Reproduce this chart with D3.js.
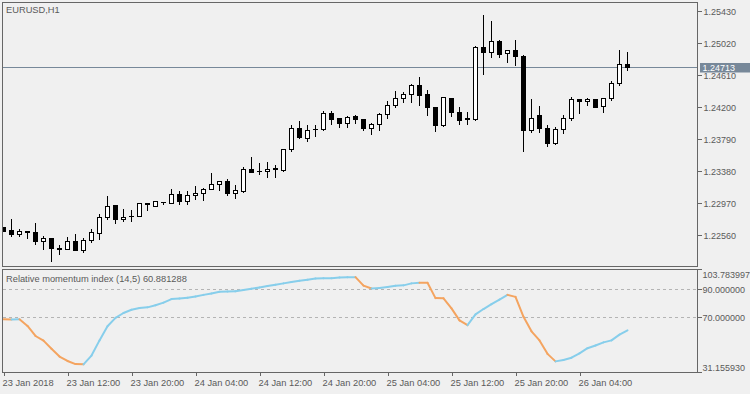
<!DOCTYPE html>
<html>
<head>
<meta charset="utf-8">
<script src="https://cdn.jsdelivr.net/npm/d3@7/dist/d3.min.js"></script>
<style>
  html, body { margin: 0; padding: 0; background: #f0f0f0; }
  svg { display: block; font-family: "Liberation Sans", Arial, sans-serif; }
</style>
</head>
<body>
<svg id="chart" width="750" height="394"></svg>
<script>
// EURUSD H1 candles, first bar 23 Jan 2018 04:00
const symbolTitle = 'EURUSD,H1';
const firstBar = '2018-01-23 04:00';

const open = [
  1.22665, 1.22622, 1.22570, 1.22609, 1.22592, 1.22481, 1.22515, 1.22383, 1.22378, 1.22481,
  1.22365, 1.22499, 1.22588, 1.22788, 1.22942, 1.22759, 1.22806, 1.22801, 1.22964, 1.22934,
  1.22985, 1.22964, 1.23088, 1.22993, 1.23070, 1.23096, 1.23152, 1.23216, 1.23254, 1.23096,
  1.23121, 1.23408, 1.23383, 1.23378, 1.23412, 1.23390, 1.23665, 1.23934, 1.23805, 1.23912,
  1.23912, 1.24126, 1.24053, 1.23989, 1.24082, 1.24049, 1.23934, 1.23985, 1.24113, 1.24228,
  1.24318, 1.24369, 1.24484, 1.24360, 1.24203, 1.23967, 1.24318, 1.24139, 1.24053, 1.24049,
  1.24971, 1.24907, 1.25043, 1.24886, 1.24933, 1.24856, 1.23903, 1.24100, 1.23934, 1.23736,
  1.23921, 1.24057, 1.24305, 1.24279, 1.24305, 1.24210, 1.24318, 1.24510, 1.24754
];
const high = [
  1.22675, 1.22772, 1.22652, 1.22622, 1.22729, 1.22563, 1.22528, 1.22442, 1.22550, 1.22579,
  1.22532, 1.22652, 1.22836, 1.23066, 1.22951, 1.22909, 1.22891, 1.22964, 1.22973, 1.22989,
  1.22998, 1.23156, 1.23130, 1.23130, 1.23194, 1.23169, 1.23361, 1.23254, 1.23293, 1.23207,
  1.23447, 1.23566, 1.23489, 1.23502, 1.23463, 1.23677, 1.23976, 1.24027, 1.23976, 1.23976,
  1.24155, 1.24155, 1.24075, 1.24100, 1.24113, 1.24059, 1.24010, 1.24133, 1.24287, 1.24415,
  1.24408, 1.24505, 1.24600, 1.24424, 1.24208, 1.24344, 1.24331, 1.24210, 1.24151, 1.24988,
  1.25385, 1.25308, 1.25074, 1.24928, 1.25074, 1.24882, 1.24318, 1.24228, 1.23985, 1.23954,
  1.24113, 1.24344, 1.24310, 1.24331, 1.24318, 1.24331, 1.24540, 1.24946, 1.24920
];
const low = [
  1.22605, 1.22545, 1.22545, 1.22519, 1.22438, 1.22374, 1.22224, 1.22310, 1.22378, 1.22365,
  1.22340, 1.22464, 1.22502, 1.22768, 1.22711, 1.22742, 1.22742, 1.22801, 1.22878, 1.22934,
  1.22960, 1.22964, 1.22951, 1.22951, 1.23015, 1.23006, 1.23152, 1.23134, 1.23070, 1.23031,
  1.23108, 1.23365, 1.23339, 1.23301, 1.23301, 1.23378, 1.23634, 1.23796, 1.23762, 1.23826,
  1.23903, 1.23980, 1.23946, 1.23946, 1.23998, 1.23903, 1.23848, 1.23903, 1.24053, 1.24197,
  1.24262, 1.24262, 1.24223, 1.24095, 1.23890, 1.23959, 1.24082, 1.23980, 1.23980, 1.24036,
  1.24625, 1.24838, 1.24838, 1.24774, 1.24736, 1.23634, 1.23877, 1.23877, 1.23698, 1.23723,
  1.23864, 1.24036, 1.24121, 1.24223, 1.24203, 1.24133, 1.24292, 1.24484, 1.24672
];
const close = [
  1.22614, 1.22567, 1.22605, 1.22592, 1.22481, 1.22515, 1.22391, 1.22391, 1.22481, 1.22365,
  1.22499, 1.22592, 1.22793, 1.22934, 1.22759, 1.22793, 1.22797, 1.22964, 1.22951, 1.22989,
  1.22977, 1.23088, 1.22993, 1.23075, 1.23101, 1.23152, 1.23216, 1.23254, 1.23096, 1.23130,
  1.23408, 1.23365, 1.23374, 1.23408, 1.23403, 1.23665, 1.23934, 1.23818, 1.23908, 1.23921,
  1.24126, 1.24049, 1.23998, 1.24075, 1.24049, 1.23928, 1.23985, 1.24113, 1.24228, 1.24318,
  1.24369, 1.24484, 1.24351, 1.24197, 1.23967, 1.24331, 1.24133, 1.24031, 1.24040, 1.24971,
  1.24902, 1.25043, 1.24882, 1.24928, 1.24856, 1.23903, 1.24062, 1.23934, 1.23736, 1.23921,
  1.24062, 1.24305, 1.24279, 1.24305, 1.24203, 1.24318, 1.24510, 1.24754, 1.24713
];
const bidPrice = 1.24713;
const priceTicks = [1.22560, 1.22970, 1.23380, 1.23790, 1.24200, 1.24610, 1.25020, 1.25430];

// Relative momentum index (14,5)
const rmiTitle = 'Relative momentum index (14,5)';
const rmi = [
  68.7, 68.6, 68.65, 64.0, 56.9, 53.6, 47.9, 42.4, 39.3, 37.1,
  36.9, 43.1, 53.8, 63.8, 69.7, 73.1, 75.4, 76.6, 77.1, 78.6,
  80.4, 82.9, 83.3, 83.8, 84.7, 85.9, 86.9, 88.1, 88.3, 88.4,
  89.3, 90.2, 91.1, 92.1, 93.1, 94.0, 95.0, 95.9, 96.6, 97.4,
  97.6, 97.7, 98.1, 98.3, 98.4, 92.4, 90.4, 90.7, 91.4, 92.4,
  92.6, 94.0, 94.5, 94.4, 83.6, 83.5, 76.4, 67.9, 64.5, 72.1,
  75.9, 79.3, 82.6, 85.9, 84.5, 70.4, 60.2, 53.8, 44.3, 39.0,
  40.0, 41.6, 44.7, 48.3, 50.2, 52.4, 53.8, 57.9, 60.881288
];
const rmiLevels = [70, 90];
const rmiRange = [31.155930, 103.783997];

const timeTicks = ['2018-01-23 04:00', '2018-01-23 12:00', '2018-01-23 20:00', '2018-01-24 04:00',
  '2018-01-24 12:00', '2018-01-24 20:00', '2018-01-25 04:00', '2018-01-25 12:00',
  '2018-01-25 20:00', '2018-01-26 04:00'];
const timeTickLabels = ['23 Jan 2018', '23 Jan 12:00', '23 Jan 20:00', '24 Jan 04:00',
  '24 Jan 12:00', '24 Jan 20:00', '25 Jan 04:00', '25 Jan 12:00',
  '25 Jan 20:00', '26 Jan 04:00'];

let frameColor = '#666666';
let textColor = '#5a5a5a';
let upColor = '#87ceeb', downColor = '#f4a460';
let fs = '9.3px';     // titles + time axis
let fsR = '9px';      // right hand scales, must fit in 52px

let L = 2.5, R = 697.5, mainTop = 2.5, mainBottom = 266.5, subTop = 269.5, subBottom = 372.5;

let parse = d3.timeParse('%Y-%m-%d %H:%M');
let t0 = parse(firstBar);
let times = open.map((d, i) => d3.timeHour.offset(t0, i));

let svg = d3.select('#chart');

let x = d3.scaleTime().domain([times[0], times[times.length - 1]]).range([3.5, 627.5]);
let y = d3.scaleLinear().domain([1.22160, 1.25545]).range([mainBottom, mainTop]);
let yR = d3.scaleLinear().domain(rmiRange).range([subBottom, subTop]);
let px = v => Math.round(v - 0.5) + 0.5;

svg.append('defs').append('clipPath').attr('id', 'mainClip')
  .append('rect').attr('x', L).attr('y', mainTop).attr('width', R - L).attr('height', mainBottom - mainTop);
svg.select('defs').append('clipPath').attr('id', 'subClip')
  .append('rect').attr('x', L).attr('y', subTop).attr('width', R - L).attr('height', subBottom - subTop);

// ---- main panel
let main = svg.append('g').attr('clip-path', 'url(#mainClip)');

main.append('line')
  .attr('x1', L).attr('x2', R)
  .attr('y1', px(y(bidPrice))).attr('y2', px(y(bidPrice)))
  .attr('stroke', '#778899').attr('stroke-width', 1);

let bars = main.append('g').attr('shape-rendering', 'crispEdges');
times.forEach((t, i) => {
  let cx = px(x(t));
  let o = open[i], c = close[i];
  bars.append('line')
    .attr('x1', cx).attr('x2', cx)
    .attr('y1', px(y(high[i]))).attr('y2', px(y(low[i])) + 0.5)
    .attr('stroke', '#000');
  let top = px(y(Math.max(o, c))), bot = px(y(Math.min(o, c)));
  if (bot - top < 1) {
    bars.append('line')
      .attr('x1', cx - 2.5).attr('x2', cx + 2.5)
      .attr('y1', top).attr('y2', top)
      .attr('stroke', '#000');
  } else {
    bars.append('rect')
      .attr('x', cx - 2).attr('y', top)
      .attr('width', 4).attr('height', bot - top)
      .attr('fill', c >= o ? '#ffffff' : '#000000')
      .attr('stroke', '#000');
  }
});

svg.append('text')
  .attr('x', 6).attr('y', 12.5)
  .attr('font-size', fs).attr('fill', textColor)
  .text(symbolTitle);

// price axis
let yAxis = svg.append('g')
  .attr('transform', `translate(${R},0)`)
  .call(d3.axisRight(y).tickValues(priceTicks).tickFormat(d3.format('.5f')).tickSize(4).tickPadding(2));
yAxis.select('.domain').remove();
yAxis.selectAll('line').attr('stroke', frameColor).attr('shape-rendering', 'crispEdges');
yAxis.selectAll('text').attr('font-size', fsR).attr('fill', textColor).attr('font-family', null);

// bid label (covers the 1.24610 label, as in the terminal)
let by = px(y(bidPrice));
svg.append('rect')
  .attr('x', 700).attr('y', by - 4.5).attr('width', 50).attr('height', 9.5)
  .attr('fill', '#778899');
svg.append('text')
  .attr('x', 702.5).attr('y', by).attr('dy', '0.34em')
  .attr('font-size', fsR).attr('fill', '#ffffff')
  .text(d3.format('.5f')(bidPrice));

// ---- indicator panel
let sub = svg.append('g').attr('clip-path', 'url(#subClip)');

rmiLevels.forEach(v => {
  sub.append('line')
    .attr('x1', L).attr('x2', R)
    .attr('y1', px(yR(v))).attr('y2', px(yR(v)))
    .attr('stroke', '#b4b4b4').attr('stroke-dasharray', '3,3')
    .attr('shape-rendering', 'crispEdges');
});

for (let i = 1; i < rmi.length; i++) {
  sub.append('line')
    .attr('x1', x(times[i - 1])).attr('y1', yR(rmi[i - 1]))
    .attr('x2', x(times[i])).attr('y2', yR(rmi[i]))
    .attr('stroke', rmi[i] >= rmi[i - 1] ? upColor : downColor)
    .attr('stroke-width', 2)
    .attr('stroke-linecap', 'round');
}

svg.append('text')
  .attr('x', 6).attr('y', 282)
  .attr('font-size', fs).attr('fill', textColor)
  .text(rmiTitle + ' ' + d3.format('.6f')(rmi[rmi.length - 1]));

// indicator scale
let rTicks = [rmiRange[1], 90, 70, rmiRange[0]];
rTicks.forEach(v => {
  let ty = px(yR(v));
  svg.append('line')
    .attr('x1', R).attr('x2', R + 4).attr('y1', ty).attr('y2', ty)
    .attr('stroke', frameColor).attr('shape-rendering', 'crispEdges');
  let off = v === rmiRange[1] ? 5 : (v === rmiRange[0] ? -5 : 0);
  svg.append('text')
    .attr('x', R + 5).attr('y', ty + off).attr('dy', '0.34em')
    .attr('font-size', fsR).attr('fill', textColor)
    .text(d3.format('.6f')(v));
});

// time axis
let xAxis = svg.append('g')
  .attr('transform', `translate(0,${subBottom})`)
  .call(d3.axisBottom(x).tickValues(timeTicks.map(parse))
    .tickFormat((d, i) => timeTickLabels[i]).tickSize(3));
xAxis.select('.domain').remove();
xAxis.selectAll('line').attr('stroke', frameColor).attr('shape-rendering', 'crispEdges');
xAxis.selectAll('text')
  .attr('font-size', fs).attr('fill', textColor).attr('font-family', null)
  .attr('text-anchor', 'start').attr('x', -1.5).attr('y', 13.5).attr('dy', null);

// frames
[[mainTop, mainBottom], [subTop, subBottom]].forEach(p => {
  svg.append('rect')
    .attr('x', L).attr('y', p[0]).attr('width', R - L).attr('height', p[1] - p[0])
    .attr('fill', 'none').attr('stroke', frameColor)
    .attr('shape-rendering', 'crispEdges');
});
</script>
</body>
</html>
